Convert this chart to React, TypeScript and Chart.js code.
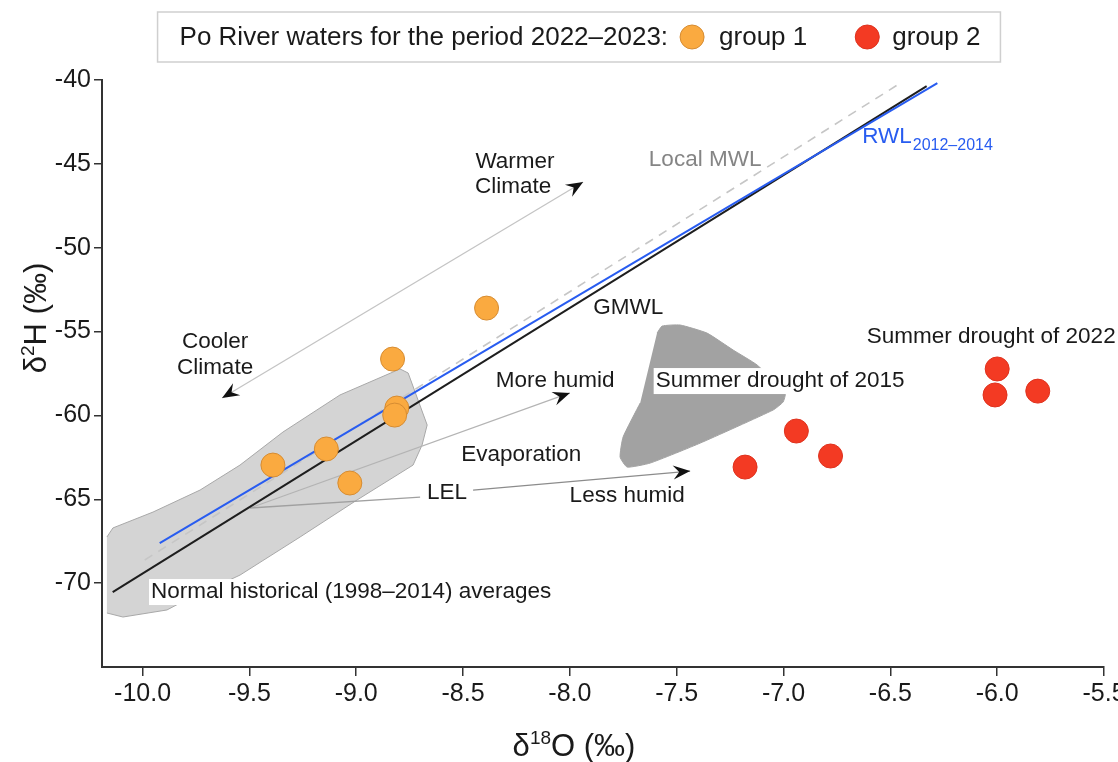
import React, { useEffect, useRef } from 'react';
import { Chart, registerables } from 'chart.js';

Chart.register(...registerables);

// ---------------- data ----------------
const group1X = [-9.39, -9.14, -9.03, -8.83, -8.81, -8.82, -8.39];
const group1Y = [-62.96, -62.0, -64.03, -56.64, -59.56, -59.98, -53.6];
const group2X = [-7.18, -6.94, -6.78, -6.0, -6.01, -5.81];
const group2Y = [-63.08, -60.93, -62.42, -57.23, -58.78, -58.55];

const gmwlX = [-10.14, -6.33];
const gmwlY = [-70.53, -40.36];
const rwlX = [-9.92, -6.28];
const rwlY = [-67.61, -40.18];
const localMwlX = [-9.99, -6.46];
const localMwlY = [-68.62, -40.24];

const normalX = [-10.167, -10.139, -9.951, -9.731, -9.544, -9.343, -9.076, -8.795, -8.757, -8.668, -8.692, -8.734, -8.996, -9.263, -9.544, -9.825, -9.886, -10.092, -10.167];
const normalY = [-67.25, -66.71, -65.76, -64.45, -62.96, -60.99, -58.78, -57.23, -57.47, -60.57, -61.77, -62.96, -65.04, -67.25, -69.52, -71.19, -71.6, -72.02, -71.78];

const drought2015X = [-7.592, -7.568, -7.484, -7.358, -7.236, -7.124, -6.992, -7.002, -7.049, -7.39, -7.624, -7.732, -7.765, -7.751, -7.671];
const drought2015Y = [-55.09, -54.67, -54.61, -55.09, -56.1, -56.99, -58.66, -59.2, -59.68, -61.65, -62.84, -63.08, -62.48, -61.29, -59.26];

const xTickValues = [-10, -9.5, -9, -8.5, -8, -7.5, -7, -6.5, -6, -5.5];
const yTickValues = [-70, -65, -60, -55, -50, -45, -40];

const noteText = ['Warmer', 'Climate', 'Cooler', 'Climate', 'GMWL', 'More humid', 'Evaporation', 'LEL', 'Less humid', 'Summer drought of 2022', 'Summer drought of 2015', 'Normal historical (1998–2014) averages', 'Local MWL'];
const noteX = [-8.257, -8.266, -9.661, -9.661, -7.727, -8.069, -8.228, -8.575, -7.732, -6.028, -7.016, -9.024, -7.367];
const noteY = [-44.89, -46.38, -55.62, -57.17, -53.6, -57.95, -62.36, -64.63, -64.81, -55.33, -57.95, -70.53, -44.77];

const rwlLabelX = -6.632;
const rwlLabelY = -43.4;

const arrowFromX = [-9.628, -9.497, -9.497, -8.453];
const arrowFromY = [-58.96, -65.52, -65.52, -64.45];
const arrowToX = [-7.938, -8.0, -8.701, -7.437];
const arrowToY = [-46.08, -58.66, -64.87, -63.32];

const legendTitle = 'Po River waters for the period 2022–2023:';

// ---------------- styles ----------------
const SANS = "'Liberation Sans', Arial, Helvetica, sans-serif";
const ORANGE = 'rgb(250,170,64)';
const ORANGE_EDGE = 'rgb(214,140,50)';
const RED = 'rgb(243,58,35)';
const RED_EDGE = 'rgb(222,50,30)';
const BLUE = 'rgb(40,92,240)';
const NORMAL_LABEL = 'Normal historical';

function drawHead(ctx: CanvasRenderingContext2D, x: number, y: number, ang: number) {
  ctx.save();
  ctx.translate(x, y);
  ctx.rotate(ang);
  ctx.beginPath();
  ctx.moveTo(0, 0);
  ctx.lineTo(-17, -7);
  ctx.lineTo(-11, 0);
  ctx.lineTo(-17, 7);
  ctx.closePath();
  ctx.fillStyle = '#111';
  ctx.fill();
  ctx.restore();
}

const arrowKinds = ['both', 'end', 'none', 'end'];
const arrowColors = ['#c4c4c4', '#b4b4b4', '#a0a0a0', '#8c8c8c'];

const overlayPlugin = {
  id: 'overlay',
  afterDatasetDraw(chart: any, args: any) {
    const ds = chart.data.datasets[args.index];
    if (ds.label !== NORMAL_LABEL) return;
    const ctx: CanvasRenderingContext2D = chart.ctx;
    const xs = chart.scales.x;
    const ys = chart.scales.y;
    ctx.save();
    for (let i = 0; i < arrowFromX.length; i++) {
      const x1 = xs.getPixelForValue(arrowFromX[i]);
      const y1 = ys.getPixelForValue(arrowFromY[i]);
      const x2 = xs.getPixelForValue(arrowToX[i]);
      const y2 = ys.getPixelForValue(arrowToY[i]);
      ctx.strokeStyle = arrowColors[i];
      ctx.lineWidth = 1.3;
      ctx.beginPath();
      ctx.moveTo(x1, y1);
      ctx.lineTo(x2, y2);
      ctx.stroke();
      const ang = Math.atan2(y2 - y1, x2 - x1);
      if (arrowKinds[i] === 'end' || arrowKinds[i] === 'both') drawHead(ctx, x2, y2, ang);
      if (arrowKinds[i] === 'both') drawHead(ctx, x1, y1, ang + Math.PI);
    }
    ctx.restore();
  },
  afterDatasetsDraw(chart: any) {
    const ctx: CanvasRenderingContext2D = chart.ctx;
    const xs = chart.scales.x;
    const ys = chart.scales.y;
    ctx.save();
    ctx.font = `22.5px ${SANS}`;
    ctx.textAlign = 'center';
    ctx.textBaseline = 'middle';
    for (let i = 0; i < noteText.length; i++) {
      const t = noteText[i];
      const px = xs.getPixelForValue(noteX[i]);
      const py = ys.getPixelForValue(noteY[i]);
      if (t.startsWith('Summer drought of 2015') || t.startsWith('Normal')) {
        const w = ctx.measureText(t).width;
        ctx.fillStyle = '#fff';
        ctx.fillRect(px - w / 2 - 2, py - 13, w + 4, 26);
      }
      ctx.fillStyle = t === 'Local MWL' ? '#858585' : '#1a1a1a';
      ctx.fillText(t, px, py);
    }
    // RWL with subscript
    const rx = xs.getPixelForValue(rwlLabelX);
    const ry = ys.getPixelForValue(rwlLabelY);
    ctx.textAlign = 'left';
    ctx.fillStyle = BLUE;
    ctx.fillText('RWL', rx, ry);
    const rw = ctx.measureText('RWL').width;
    ctx.font = `16px ${SANS}`;
    ctx.fillText('2012–2014', rx + rw + 1, ry + 9);
    ctx.restore();
  },
  afterDraw(chart: any) {
    const ctx: CanvasRenderingContext2D = chart.ctx;
    ctx.save();
    // axis titles
    ctx.fillStyle = '#1a1a1a';
    ctx.textBaseline = 'alphabetic';
    const big = `31px ${SANS}`;
    const small = `19px ${SANS}`;
    const parts = [['δ', big, 0], ['18', small, -12], ['O (‰)', big, 0]] as any[];
    let total = 0;
    parts.forEach((p) => { ctx.font = p[1]; total += ctx.measureText(p[0]).width; });
    let cx = 574 - total / 2;
    const by = 756;
    parts.forEach((p) => { ctx.font = p[1]; ctx.textAlign = 'left'; ctx.fillText(p[0], cx, by + p[2]); cx += ctx.measureText(p[0]).width; });

    const partsY = [['δ', big, 0], ['2', small, -12], ['H (‰)', big, 0]] as any[];
    total = 0;
    partsY.forEach((p) => { ctx.font = p[1]; total += ctx.measureText(p[0]).width; });
    ctx.save();
    ctx.translate(46, 318);
    ctx.rotate(-Math.PI / 2);
    let cy = -total / 2;
    partsY.forEach((p) => { ctx.font = p[1]; ctx.textAlign = 'left'; ctx.fillText(p[0], cy, p[2]); cy += ctx.measureText(p[0]).width; });
    ctx.restore();

    // legend
    const groups = chart.data.datasets.filter((d: any) => d.label === 'group 1' || d.label === 'group 2');
    ctx.font = `26px ${SANS}`;
    const tw = ctx.measureText(legendTitle).width;
    const w1 = ctx.measureText(groups[0].label).width;
    const w2 = ctx.measureText(groups[1].label).width;
    const boxW = 22 + tw + 12 + 24 + 15 + w1 + 48 + 24 + 13 + w2 + 20;
    const bx = 579 - boxW / 2;
    const bTop = 12;
    const bH = 50;
    ctx.fillStyle = '#fff';
    ctx.fillRect(bx, bTop, boxW, bH);
    ctx.strokeStyle = '#cfcfcf';
    ctx.lineWidth = 1.5;
    ctx.strokeRect(bx, bTop, boxW, bH);
    const my = bTop + bH / 2;
    ctx.textBaseline = 'middle';
    ctx.textAlign = 'left';
    ctx.fillStyle = '#1a1a1a';
    let lx = bx + 22;
    ctx.fillText(legendTitle, lx, my + 1);
    lx += tw + 12;
    const circle = (x: number, d: any) => {
      ctx.beginPath();
      ctx.arc(x + 12, my, 12, 0, Math.PI * 2);
      ctx.fillStyle = d.backgroundColor;
      ctx.fill();
      ctx.lineWidth = 1;
      ctx.strokeStyle = d.borderColor;
      ctx.stroke();
    };
    circle(lx, groups[0]);
    lx += 24 + 15;
    ctx.fillStyle = '#1a1a1a';
    ctx.fillText(groups[0].label, lx, my + 1);
    lx += w1 + 48;
    circle(lx, groups[1]);
    lx += 24 + 13;
    ctx.fillStyle = '#1a1a1a';
    ctx.fillText(groups[1].label, lx, my + 1);
    ctx.restore();
  },
};

const pts = (xs: number[], ys: number[]) => xs.map((x, i) => ({ x, y: ys[i] }));

export default function App() {
  const ref = useRef<HTMLCanvasElement | null>(null);
  useEffect(() => {
    if (!ref.current) return;
    const chart = new Chart(ref.current, {
      type: 'scatter',
      data: {
        datasets: [
          { type: 'scatter', label: 'group 1', data: pts(group1X, group1Y), backgroundColor: ORANGE, borderColor: ORANGE_EDGE, borderWidth: 1, pointRadius: 12, order: 0 } as any,
          { type: 'scatter', label: 'group 2', data: pts(group2X, group2Y), backgroundColor: RED, borderColor: RED_EDGE, borderWidth: 1, pointRadius: 12, order: 0 } as any,
          { type: 'line', label: 'GMWL', data: pts(gmwlX, gmwlY), borderColor: '#1e1e1e', borderWidth: 2, pointRadius: 0, fill: false, order: 3 } as any,
          { type: 'line', label: 'RWL', data: pts(rwlX, rwlY), borderColor: BLUE, borderWidth: 2, pointRadius: 0, fill: false, order: 2 } as any,
          { type: 'line', label: 'Local MWL', data: pts(localMwlX, localMwlY), borderColor: '#c6c6c6', borderWidth: 1.6, borderDash: [9, 7], pointRadius: 0, fill: false, order: 4 } as any,
          { type: 'line', label: NORMAL_LABEL, data: pts(normalX, normalY), borderColor: '#a8a8a8', borderWidth: 1, backgroundColor: 'rgb(212,212,212)', pointRadius: 0, fill: 'shape', tension: 0, order: 10 } as any,
          { type: 'line', label: 'Summer drought 2015', data: pts(drought2015X, drought2015Y), borderColor: 'rgb(162,162,162)', borderWidth: 1, backgroundColor: 'rgb(162,162,162)', pointRadius: 0, fill: 'shape', tension: 0.15, order: 11 } as any,
        ],
      },
      options: {
        animation: false,
        responsive: false,
        devicePixelRatio: 1,
        layout: { padding: { top: 80, right: 14, bottom: 0, left: 0 } },
        plugins: { legend: { display: false }, tooltip: { enabled: false } },
        scales: {
          x: {
            type: 'linear',
            min: -10.19,
            max: -5.5,
            afterBuildTicks: (s: any) => { s.ticks = xTickValues.map((v) => ({ value: v })); },
            afterFit: (s: any) => { s.height = 95; s.paddingLeft = 0; s.paddingRight = 0; },
            ticks: { autoSkip: false, maxRotation: 0, padding: 3, color: '#1a1a1a', font: { family: SANS, size: 25 }, callback: (v: any) => Number(v).toFixed(1) },
            grid: { drawOnChartArea: false, drawTicks: true, tickLength: 9, color: '#333', lineWidth: 1.5 },
            border: { display: true, color: '#333', width: 2 },
          },
          y: {
            type: 'linear',
            min: -75,
            max: -40,
            afterBuildTicks: (s: any) => { s.ticks = yTickValues.map((v) => ({ value: v })); },
            afterFit: (s: any) => { s.width = 102; s.paddingTop = 0; s.paddingBottom = 0; },
            ticks: { autoSkip: false, padding: 3, color: '#1a1a1a', font: { family: SANS, size: 25 }, callback: (v: any) => String(v) },
            grid: { drawOnChartArea: false, drawTicks: true, tickLength: 8, color: '#333', lineWidth: 1.5 },
            border: { display: true, color: '#333', width: 2 },
          },
        },
      } as any,
      plugins: [overlayPlugin],
    });
    return () => chart.destroy();
  }, []);
  return (
    <div style={{ position: 'fixed', left: 0, top: 0, width: 1118, height: 762, background: '#fff' }}>
      <canvas ref={ref} width={1118} height={762} />
    </div>
  );
}
